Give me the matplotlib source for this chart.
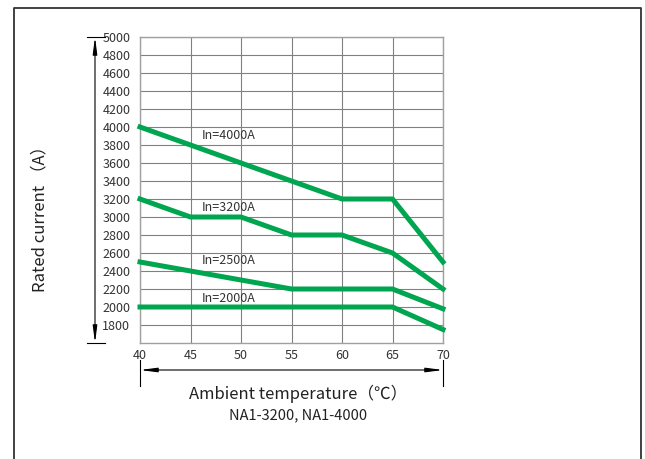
import numpy as np
import matplotlib.pyplot as plt
from matplotlib.lines import Line2D

plt.rcParams['font.family'] = ['Noto Sans CJK SC', 'DejaVu Sans']

# derating data
temps = [40, 45, 50, 55, 60, 65, 70]
in_4000 = [4000, 3800, 3600, 3400, 3200, 3200, 2500]
in_3200 = [3200, 3000, 3000, 2800, 2800, 2600, 2200]
in_2500 = [2500, 2400, 2300, 2200, 2200, 2200, 1980]
in_2000 = [2000, 2000, 2000, 2000, 2000, 2000, 1750]
series = [in_4000, in_3200, in_2500, in_2000]
labels = ['In=4000A', 'In=3200A', 'In=2500A', 'In=2000A']
label_y = [3910, 3110, 2520, 2100]
y_ticks = list(range(1800, 5001, 200))

W, H = 645, 459
fig = plt.figure(figsize=(6.45, 4.59), dpi=100)
ax = fig.add_axes([140/W, 1-343/H, 303/W, 306/H])

green = '#00a550'
for s in series:
    ax.plot(temps, s, color=green, lw=3.6, solid_joinstyle='miter', clip_on=False, zorder=3)
for lab, yy in zip(labels, label_y):
    ax.text(46.1, yy, lab, fontsize=9, color='#333333', va='center', ha='left')

ax.set_xlim(40, 70)
ax.set_ylim(1600, 5000)
ax.set_xticks(temps)
ax.set_yticks(y_ticks)
ax.tick_params(length=0, labelsize=9, labelcolor='#333333')
ax.tick_params(axis='y', pad=7)
ax.tick_params(axis='x', pad=4)
ax.grid(True, color='#808080', lw=0.8)
ax.set_axisbelow(True)
for sp in ax.spines.values():
    sp.set_color('#a0a0a0')
    sp.set_linewidth(1.0)

# dimension arrows
def dim_arrow(p0, p1):
    ax.annotate('', xy=p1, xytext=p0, xycoords='axes fraction', textcoords='axes fraction',
                arrowprops=dict(arrowstyle='<|-|>,head_length=1.0,head_width=0.13',
                                color='black', lw=0.8, shrinkA=0, shrinkB=0),
                annotation_clip=False)

xa = (95 - 140) / 303
dim_arrow((xa, 0), (xa, 1))
for yv in (0, 1):
    ax.add_line(Line2D([(87-140)/303, (105-140)/303], [yv, yv], transform=ax.transAxes,
                       color='black', lw=0.8, clip_on=False))
ya = -(370 - 343) / 306
dim_arrow((0, ya), (1, ya))
for xv in (0, 1):
    ax.add_line(Line2D([xv, xv], [-(360-343)/306, -(386-343)/306], transform=ax.transAxes,
                       color='black', lw=0.8, clip_on=False))

fig.text(40/W, 1-215/H, 'Rated current （A）', rotation=90, fontsize=12,
         color='#222222', ha='center', va='center')
fig.text(298/W, 1-394/H, 'Ambient temperature（℃）', fontsize=12,
         color='#222222', ha='center', va='center')
fig.text(298/W, 1-415/H, 'NA1-3200, NA1-4000', fontsize=10.5,
         color='#222222', ha='center', va='center')

# outer frame
fig.add_artist(Line2D([14/W, 14/W, 641/W, 641/W], [0, 1-8/H, 1-8/H, 0],
                      transform=fig.transFigure, color='#333333', lw=1.3))

fig.savefig('out.png', dpi=100)
